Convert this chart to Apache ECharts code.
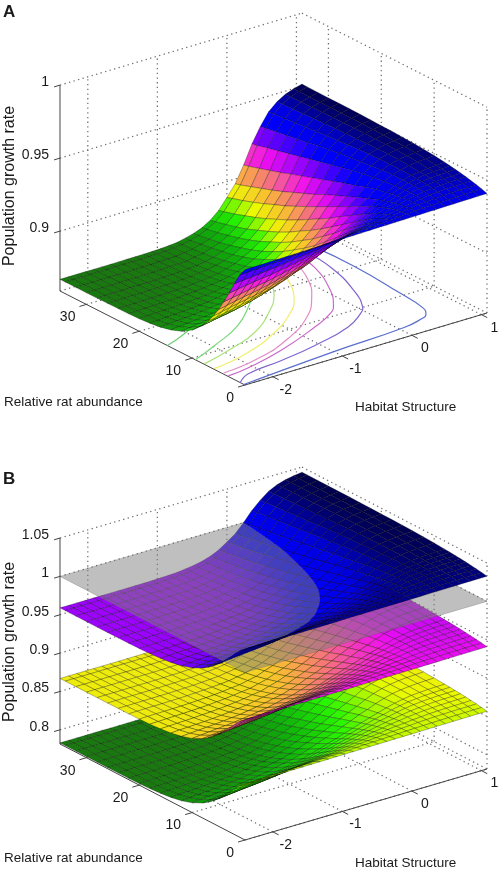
<!DOCTYPE html>
<html>
<head>
<meta charset="utf-8">
<title>Population growth rate surfaces</title>
<style>
  html, body { margin: 0; padding: 0; background: #fff; }
  #chart { width: 498px; height: 871px; }
</style>
<script src="https://cdn.jsdelivr.net/npm/echarts@6/dist/echarts.min.js"></script>
</head>
<body>
<div id="chart"></div>
<script>
// values
const ratValues = [0, 1, 2, 3, 4, 5, 6, 7, 8, 10, 12, 14, 16, 18, 20, 22, 24, 26, 28, 30, 32, 34, 35];
const habitatValues = [-2.4, -2.28, -2.16, -2.04, -1.92, -1.8, -1.68, -1.56, -1.44, -1.32, -1.2, -1.08, -0.96, -0.84, -0.72,
  -0.6, -0.48, -0.36, -0.24, -0.12, 0, 0.12, 0.24, 0.36, 0.48, 0.6, 0.72, 0.84, 0.96, 1.08];
// growth rate x 10000, one line per habitat value, one entry per rat value
const growthByHabitat = [
  [9380,9325,9247,9164,9087,9015,8952,8897,8852,8782,8737,8710,8692,8682,8676,8673,8672,8671,8670,8670,8670,8670,8670],
  [9381,9329,9253,9174,9097,9027,8965,8909,8863,8792,8745,8716,8696,8684,8679,8675,8672,8671,8670,8670,8670,8670,8670],
  [9382,9332,9258,9183,9107,9039,8977,8921,8875,8802,8753,8720,8700,8688,8681,8676,8673,8672,8671,8670,8670,8670,8670],
  [9383,9336,9265,9192,9118,9051,8989,8933,8887,8812,8760,8726,8704,8691,8682,8677,8674,8672,8671,8670,8670,8670,8670],
  [9384,9339,9271,9200,9128,9060,8999,8945,8896,8821,8768,8731,8709,8694,8684,8678,8675,8672,8672,8671,8670,8670,8670],
  [9385,9341,9276,9205,9137,9071,9009,8956,8908,8832,8777,8738,8715,8698,8686,8680,8676,8673,8672,8671,8671,8670,8670],
  [9386,9345,9283,9216,9148,9083,9025,8973,8923,8846,8789,8748,8721,8702,8690,8682,8677,8674,8672,8672,8671,8671,8670],
  [9387,9349,9292,9226,9161,9098,9041,8987,8940,8860,8800,8758,8729,8707,8694,8685,8679,8676,8673,8672,8671,8671,8670],
  [9388,9353,9298,9237,9175,9114,9059,9005,8959,8879,8817,8771,8739,8717,8700,8690,8682,8677,8675,8673,8672,8671,8671],
  [9389,9356,9307,9248,9190,9130,9076,9025,8978,8896,8834,8784,8751,8726,8707,8695,8686,8681,8677,8674,8672,8672,8671],
  [9390,9361,9313,9260,9204,9150,9096,9045,8999,8920,8853,8803,8765,8738,8717,8702,8692,8684,8679,8677,8674,8672,8672],
  [9391,9365,9325,9272,9222,9168,9118,9069,9024,8945,8879,8825,8784,8752,8730,8711,8699,8691,8684,8679,8677,8674,8673],
  [9392,9368,9329,9281,9233,9183,9135,9087,9043,8963,8897,8841,8798,8765,8740,8721,8706,8696,8688,8682,8678,8676,8675],
  [9393,9373,9338,9297,9253,9210,9163,9121,9077,8997,8933,8877,8831,8792,8763,8740,8723,8709,8697,8691,8685,8681,8679],
  [9394,9378,9348,9313,9272,9231,9189,9151,9108,9034,8967,8909,8862,8821,8786,8760,8740,8724,8711,8701,8693,8687,8684],
  [9395,9383,9358,9329,9294,9257,9221,9183,9147,9076,9013,8954,8903,8862,8826,8793,8769,8748,8734,8720,8709,8699,8697],
  [9396,9386,9367,9340,9310,9279,9246,9213,9179,9115,9052,8997,8948,8901,8863,8828,8801,8778,8758,8740,8727,8716,8712],
  [9397,9391,9375,9353,9330,9302,9274,9245,9217,9155,9099,9043,8996,8949,8909,8876,8842,8815,8792,8773,8755,8741,8734],
  [9398,9394,9383,9365,9347,9326,9300,9276,9250,9198,9146,9095,9048,9007,8963,8926,8894,8865,8836,8813,8794,8776,8768],
  [9399,9398,9392,9380,9363,9348,9329,9308,9288,9242,9199,9151,9110,9069,9029,8992,8960,8927,8899,8874,8849,8828,8818],
  [9400,9402,9399,9392,9383,9370,9357,9342,9323,9290,9250,9214,9177,9140,9104,9069,9035,9007,8976,8949,8924,8902,8890],
  [9401,9406,9405,9400,9396,9387,9377,9367,9355,9327,9298,9267,9237,9206,9170,9140,9110,9079,9052,9027,9002,8977,8967],
  [9402,9409,9413,9411,9412,9407,9402,9396,9388,9372,9352,9325,9304,9280,9255,9230,9205,9182,9156,9133,9110,9088,9078],
  [9403,9411,9418,9420,9423,9424,9423,9420,9417,9409,9399,9388,9373,9356,9337,9322,9303,9285,9268,9250,9233,9214,9206],
  [9404,9414,9423,9428,9433,9434,9438,9439,9438,9439,9433,9425,9417,9409,9400,9390,9379,9363,9351,9339,9327,9315,9308],
  [9405,9416,9426,9432,9438,9444,9448,9450,9455,9456,9456,9455,9452,9449,9443,9436,9430,9422,9417,9410,9402,9396,9392],
  [9406,9417,9428,9436,9443,9449,9455,9459,9462,9468,9472,9474,9472,9471,9469,9466,9465,9461,9458,9454,9450,9447,9444],
  [9407,9419,9429,9437,9446,9453,9459,9464,9469,9476,9481,9484,9486,9487,9486,9487,9486,9485,9484,9481,9480,9479,9478],
  [9408,9420,9430,9439,9448,9454,9461,9467,9472,9480,9486,9490,9493,9495,9496,9498,9499,9499,9499,9498,9498,9499,9499],
  [9409,9421,9432,9441,9450,9457,9464,9470,9475,9484,9491,9496,9500,9503,9505,9507,9509,9510,9511,9511,9512,9513,9514]
];
// the three sheets of panel B are the same surface moved up or down
const panelBShifts = [-0.084, 0, 0.092];
const thresholdPlane = 1;

const ratTicks = [0, 10, 20, 30];
const habitatTicks = [-2, -1, 0, 1];
const growthTicksA = [0.9, 0.95, 1];
const growthTicksB = [0.8, 0.85, 0.9, 0.95, 1, 1.05];

// contour lines on the floor of panel A, [rat, habitat]
const contourGreenFar = [[14.7,-2.4],[15.3,-2.24],[16.3,-2.03],[17.1,-1.89]];
const contourGreen = [[9.4,-2.4],[11.4,-1.97],[14.5,-1.4],[18.9,-0.89],[20.2,-0.775],[23.3,-0.59]];
const contourLime = [[7.8,-2.39],[9.5,-1.87],[11.7,-1.37],[15.8,-0.84],[19.1,-0.53],[22.2,-0.34],[23.6,-0.29]];
const contourYellow = [[6,-2.39],[7.4,-1.8],[10.3,-1.19],[13.7,-0.71],[16.5,-0.44],[20.9,-0.17],[24.4,-0.04]];
const contourPink = [[4.3,-2.38],[5.3,-1.81],[7.9,-1.18],[11.6,-0.63],[15.8,-0.24],[20.3,0.05],[25.3,0.24]];
const contourMagenta = [[3.3,-2.39],[3.8,-2.07],[5.6,-1.46],[8.7,-0.74],[10.9,-0.34],[12.6,-0.17],[16.4,0.07],[22.7,0.33],[26,0.36]];
const contourPurple = [[0.9,-2.4],[2.4,-2.17],[3.2,-1.64],[4.4,-1.06],[6.4,-0.435],[8.8,-0.065],[10.1,0.06],[14.2,0.26],[21.5,0.475],[27,0.52]];
const contourBlue = [[0.2,-2.4],[0.26,-2.34],[1.6,-1.04],[2.4,0.08],[3.3,0.41],[3.8,0.49],[5.6,0.59],[11.2,0.65],[20.1,0.71],[27.8,0.69]];

// styles
const contourPaths = [contourGreenFar, contourGreen, contourLime, contourYellow, contourPink, contourMagenta, contourPurple, contourBlue];
const contourColors = ['#6fd06f', '#78d878', '#aae47a', '#f2ee6c', '#e48cc6', '#c968c9', '#8066cc', '#5a6ecb'];
const surfacePalette = ['rgb(25,120,15)', 'rgb(15,180,10)', 'rgb(40,245,0)', 'rgb(235,250,0)', 'rgb(250,190,50)', 'rgb(245,110,130)',
  'rgb(240,15,240)', 'rgb(130,0,255)', 'rgb(0,0,255)', 'rgb(0,0,225)', 'rgb(0,0,70)'];
const fontName = '"Liberation Sans", Arial, sans-serif';
const textColor = '#1a1a1a';
const meshColor = 'rgba(0,0,0,0.55)';

const habMin = habitatValues[0];
const habMax = habitatValues[habitatValues.length - 1];
const ratMax = 35;

const panelA = {
  corner: [245, 385], ratStep: [-5.286, -2.686], habStep: [69.54, -20.69],
  zScale: 1460, zFloor: 0.859, zTop: 1, ticks: growthTicksA, colorRange: [0.867, 0.9514]
};
const panelB = {
  corner: [245, 840], ratStep: [-5.286, -2.743], habStep: [69.54, -20.4],
  zScale: 767, zFloor: 0.7815, zTop: 1.05, ticks: growthTicksB, colorRange: [0.783, 1.0434]
};

function project(panel, rat, hab, z) {
  const u = hab - habMin;
  return [
    panel.corner[0] + panel.ratStep[0] * rat + panel.habStep[0] * u,
    panel.corner[1] + panel.ratStep[1] * rat + panel.habStep[1] * u - panel.zScale * (z - panel.zFloor)
  ];
}

function line(panel, a, b, stroke, dash) {
  return { kind: 'polyline', pts: [project(panel, a[0], a[1], a[2]), project(panel, b[0], b[1], b[2])], stroke: stroke, dash: dash, width: dash ? 1.25 : 1 };
}

const dots = [1.3, 3.4];
const dotColor = '#6e6e6e';
const axisColor = '#444';

function frameItems(panel) {
  const items = [];
  const floor = panel.zFloor, top = panel.zTop;
  // walls
  panel.ticks.concat([floor]).forEach(function (z) {
    items.push(line(panel, [ratMax, habMin, z], [ratMax, habMax, z], dotColor, dots));
    items.push(line(panel, [ratMax, habMax, z], [0, habMax, z], dotColor, dots));
  });
  habitatTicks.forEach(function (h) {
    items.push(line(panel, [ratMax, h, floor], [ratMax, h, top], dotColor, dots));
    items.push(line(panel, [0, h, floor], [ratMax, h, floor], dotColor, dots));
  });
  ratTicks.forEach(function (r) {
    items.push(line(panel, [r, habMax, floor], [r, habMax, top], dotColor, dots));
    items.push(line(panel, [r, habMin, floor], [r, habMax, floor], dotColor, dots));
  });
  // solid axes
  items.push(line(panel, [ratMax, habMin, floor], [0, habMin, floor], axisColor));
  items.push(line(panel, [0, habMin, floor], [0, habMax, floor], axisColor));
  items.push(line(panel, [ratMax, habMin, floor], [ratMax, habMin, top], axisColor));
  // ticks and their labels
  ratTicks.forEach(function (r) {
    items.push(line(panel, [r, habMin, floor], [r, habMin - 0.1, floor], axisColor));
    const p = project(panel, r, habMin, floor);
    items.push({ kind: 'text', at: [p[0] - 11, p[1] + 13], text: String(r), align: 'right', size: 14 });
  });
  habitatTicks.forEach(function (h) {
    items.push(line(panel, [0, h, floor], [-1.1, h, floor], axisColor));
    const p = project(panel, 0, h, floor);
    items.push({ kind: 'text', at: [p[0] + 13, p[1] + 13], text: String(h), align: 'center', size: 14 });
  });
  panel.ticks.forEach(function (z) {
    items.push(line(panel, [ratMax, habMin, z], [ratMax, habMin - 0.085, z], axisColor));
    const p = project(panel, ratMax, habMin, z);
    items.push({ kind: 'text', at: [p[0] - 11, p[1] - 3], text: String(z), align: 'right', size: 14 });
  });
  return items;
}

function cellColor(panel, z) {
  const t = (z - panel.colorRange[0]) / (panel.colorRange[1] - panel.colorRange[0]);
  return echarts.color.lerp(Math.max(0, Math.min(1, t)), surfacePalette);
}

function cellCorners(i, j, shift) {
  return [[i, j], [i + 1, j], [i + 1, j + 1], [i, j + 1]].map(function (c) {
    return [ratValues[c[0]], habitatValues[c[1]], growthByHabitat[c[1]][c[0]] / 10000 + shift];
  });
}

// cut a corner list against the plane, keep one side
function clipToSide(corners, plane, above) {
  const out = [];
  corners.forEach(function (a, k) {
    const b = corners[(k + 1) % corners.length];
    const aIn = above ? a[2] >= plane : a[2] <= plane;
    const bIn = above ? b[2] >= plane : b[2] <= plane;
    if (aIn) out.push(a);
    if (aIn !== bIn) {
      const t = (plane - a[2]) / (b[2] - a[2]);
      out.push([a[0] + (b[0] - a[0]) * t, a[1] + (b[1] - a[1]) * t, plane]);
    }
  });
  return out;
}

// far corner first so near cells paint over far ones
function surfaceCells(panel, shift, onCell) {
  for (let i = ratValues.length - 2; i >= 0; i--) {
    for (let j = habitatValues.length - 2; j >= 0; j--) {
      const corners = cellCorners(i, j, shift);
      const mean = corners.reduce(function (s, c) { return s + c[2]; }, 0) / 4;
      onCell(corners, cellColor(panel, mean));
    }
  }
}

function toPoints(panel, corners) {
  return corners.map(function (c) { return project(panel, c[0], c[1], c[2]); });
}

function plainSurface(panel, shift) {
  const items = [];
  surfaceCells(panel, shift, function (corners, fill) {
    items.push({ kind: 'polygon', pts: toPoints(panel, corners), fill: fill, stroke: meshColor });
  });
  return items;
}

// cells cut by the plane are filled without outline, then only their own edges get a line
function splitSurface(panel, shift, plane, above) {
  const items = [];
  surfaceCells(panel, shift, function (corners, fill) {
    const zs = corners.map(function (c) { return c[2]; });
    const allIn = above ? Math.min.apply(null, zs) >= plane : Math.max.apply(null, zs) <= plane;
    const allOut = above ? Math.max.apply(null, zs) < plane : Math.min.apply(null, zs) > plane;
    if (allOut) return;
    if (allIn) {
      items.push({ kind: 'polygon', pts: toPoints(panel, corners), fill: fill, stroke: meshColor });
      return;
    }
    items.push({ kind: 'polygon', pts: toPoints(panel, clipToSide(corners, plane, above)), fill: fill, stroke: fill, width: 0.2 });
    corners.forEach(function (a, k) {
      const b = corners[(k + 1) % 4];
      const aIn = above ? a[2] >= plane : a[2] <= plane;
      const bIn = above ? b[2] >= plane : b[2] <= plane;
      if (!aIn && !bIn) return;
      let p = a, q = b;
      if (aIn !== bIn) {
        const t = (plane - a[2]) / (b[2] - a[2]);
        const m = [a[0] + (b[0] - a[0]) * t, a[1] + (b[1] - a[1]) * t, plane];
        if (aIn) q = m; else p = m;
      }
      items.push({ kind: 'polyline', pts: toPoints(panel, [p, q]), stroke: meshColor, width: 0.5 });
    });
  });
  return items;
}

function labelItems() {
  const titles = [];
  titles.push({ kind: 'text', at: [3, 12], text: 'A', align: 'left', size: 17, bold: true });
  titles.push({ kind: 'text', at: [3, 479], text: 'B', align: 'left', size: 17, bold: true });
  titles.push({ kind: 'text', at: [10, 186], text: 'Population growth rate', align: 'center', size: 16, rotate: true });
  titles.push({ kind: 'text', at: [10, 642], text: 'Population growth rate', align: 'center', size: 16, rotate: true });
  titles.push({ kind: 'text', at: [4, 402], text: 'Relative rat abundance', align: 'left', size: 13.5 });
  titles.push({ kind: 'text', at: [4, 858], text: 'Relative rat abundance', align: 'left', size: 13.5 });
  titles.push({ kind: 'text', at: [355, 407], text: 'Habitat Structure', align: 'left', size: 13.5 });
  titles.push({ kind: 'text', at: [355, 863], text: 'Habitat Structure', align: 'left', size: 13.5 });
  return titles;
}

function renderShape(items) {
  return function (params, api) {
    const it = items[params.dataIndex];
    if (it.kind === 'text') {
      const at = api.coord(it.at);
      return {
        type: 'text', x: at[0], y: at[1], rotation: it.rotate ? Math.PI / 2 : 0,
        style: {
          text: it.text, fill: textColor, align: it.align, verticalAlign: 'middle',
          font: (it.bold ? 'bold ' : '') + it.size + 'px ' + fontName
        }
      };
    }
    const points = it.pts.map(function (p) { return api.coord(p); });
    if (it.kind === 'polygon') {
      return {
        type: 'polygon', shape: { points: points },
        style: { fill: it.fill, stroke: it.stroke, lineWidth: it.width === undefined ? 0.5 : it.width }
      };
    }
    return {
      type: 'polyline', shape: { points: points, smooth: it.smooth || 0 },
      style: { fill: 'none', stroke: it.stroke, lineWidth: it.width || 1, lineDash: it.dash || null }
    };
  };
}

function layer(items, z) {
  return {
    type: 'custom', coordinateSystem: 'cartesian2d', silent: true, animation: false, clip: false, progressive: 0, z: z,
    data: items.map(function (_, i) { return [i, i]; }),
    renderItem: renderShape(items)
  };
}

const contourItems = contourPaths.map(function (path, i) {
  return {
    kind: 'polyline', stroke: contourColors[i], smooth: 0.5, width: 1.2,
    pts: path.map(function (p) { return project(panelA, p[0], p[1], panelA.zFloor); })
  };
});

const planeItems = [{
  kind: 'polygon', fill: 'rgba(128,128,128,0.5)', stroke: 'rgba(90,90,90,0.5)',
  pts: toPoints(panelB, [[0, habMin, thresholdPlane], [ratMax, habMin, thresholdPlane], [ratMax, habMax, thresholdPlane], [0, habMax, thresholdPlane]])
}];

const chart = echarts.init(document.getElementById('chart'), null, { renderer: 'canvas' });
chart.setOption({
  animation: false,
  backgroundColor: '#fff',
  grid: { left: 0, right: 0, top: 0, bottom: 0 },
  xAxis: { type: 'value', min: 0, max: 498, show: false },
  yAxis: { type: 'value', min: 0, max: 871, inverse: true, show: false },
  series: [
    layer(frameItems(panelA).concat(contourItems), 1),
    layer(plainSurface(panelA, 0), 2),
    layer(frameItems(panelB), 3),
    layer(plainSurface(panelB, panelBShifts[0]), 4),
    layer(plainSurface(panelB, panelBShifts[1]), 5),
    layer(splitSurface(panelB, panelBShifts[2], thresholdPlane, false), 6),
    layer(planeItems, 7),
    layer(splitSurface(panelB, panelBShifts[2], thresholdPlane, true), 8),
    layer(labelItems(), 9)
  ]
});
</script>
</body>
</html>
